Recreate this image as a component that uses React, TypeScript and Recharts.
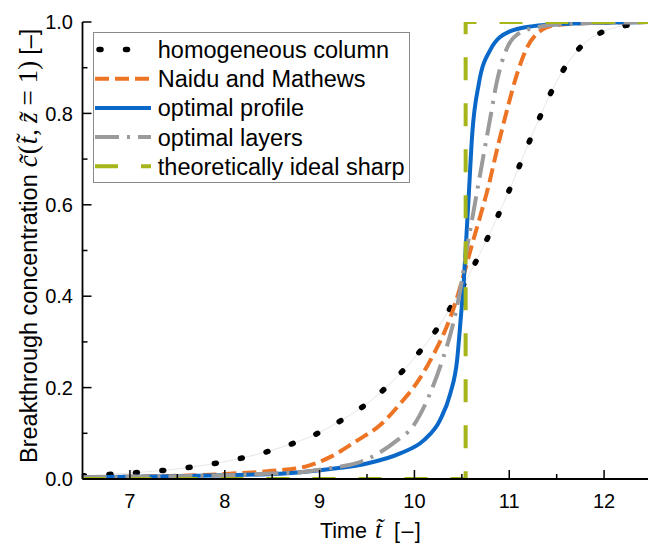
import React from 'react';
import { LineChart, Line, XAxis, YAxis, Legend } from 'recharts';

// ---------- data ----------
const xTicks = [6.5, 7, 7.5, 8, 8.5, 9, 9.5, 10, 10.5, 11, 11.5, 12, 12.5];
const yTicks = [0, 0.1, 0.2, 0.3, 0.4, 0.5, 0.6, 0.7, 0.8, 0.9, 1.0];

const homX = [6.5, 7, 7.5, 8, 8.5, 9, 9.25, 9.5, 9.75, 10, 10.25, 10.5, 10.75, 11, 11.25, 11.5, 11.75, 12, 12.25, 12.5];
const homY = [0.007, 0.013, 0.022, 0.038, 0.063, 0.102, 0.131, 0.165, 0.21, 0.265, 0.332, 0.418, 0.518, 0.632, 0.757, 0.87, 0.945, 0.98, 0.993, 0.997];

const naiduX = [6.5, 7, 7.5, 8, 8.5, 8.85, 9.12, 9.38, 9.66, 9.85, 10.05, 10.2, 10.34, 10.43, 10.54, 10.61, 10.69, 10.78, 10.87, 10.98, 11.08, 11.19, 11.33, 11.46, 11.75, 12.5];
const naiduY = [0.003, 0.005, 0.007, 0.011, 0.018, 0.027, 0.049, 0.082, 0.122, 0.165, 0.218, 0.272, 0.333, 0.384, 0.462, 0.515, 0.572, 0.64, 0.72, 0.81, 0.885, 0.945, 0.981, 0.992, 0.997, 1.0];

const profX = [6.5, 7.5, 8, 8.5, 8.8, 9.2, 9.5, 9.85, 10.1, 10.27, 10.38, 10.45, 10.49, 10.52, 10.55, 10.57, 10.61, 10.68, 10.8, 11.0, 11.25, 11.6, 12.5];
const profY = [0.004, 0.006, 0.008, 0.011, 0.015, 0.024, 0.034, 0.056, 0.085, 0.129, 0.188, 0.26, 0.355, 0.43, 0.538, 0.61, 0.756, 0.866, 0.939, 0.979, 0.991, 0.996, 1.0];

const layersX = [6.5, 7.5, 8, 8.5, 8.8, 9.15, 9.38, 9.61, 9.82, 9.98, 10.15, 10.29, 10.4, 10.48, 10.55, 10.61, 10.67, 10.73, 10.8, 10.87, 10.97, 11.08, 11.33, 11.7, 12.5];
const layersY = [0.004, 0.006, 0.008, 0.012, 0.015, 0.025, 0.034, 0.055, 0.085, 0.114, 0.18, 0.257, 0.333, 0.41, 0.5, 0.57, 0.64, 0.71, 0.79, 0.87, 0.94, 0.972, 0.99, 0.997, 1.0];

const idealX = [6.5, 10.54, 10.54, 12.5];
const idealY = [0, 0, 1, 1];

const seriesNames = [
  'homogeneous column',
  'Naidu and Mathews',
  'optimal profile',
  'optimal layers',
  'theoretically ideal sharp',
];

const toData = (xs: number[], ys: number[]) => xs.map((x, i) => ({ x, y: ys[i] }));
const homData = toData(homX, homY);
const naiduData = toData(naiduX, naiduY);
const profData = toData(profX, profY);
const layersData = toData(layersX, layersY);
const idealData = toData(idealX, idealY);

// ---------- styles ----------
const FONT = '"Liberation Sans", Arial, Helvetica, sans-serif';
const MATH = '"Liberation Serif", "DejaVu Serif", serif';
const C_ORANGE = '#ec7424';
const C_BLUE = '#0a68c9';
const C_GRAY = '#9b9b9b';
const C_GREEN = '#a6b51a';

const styles = [
  { stroke: '#000', width: 5.5, dash: '2 24.5', cap: 'round' as const },
  { stroke: C_ORANGE, width: 4, dash: '14 6', cap: 'butt' as const },
  { stroke: C_BLUE, width: 4, dash: undefined, cap: 'butt' as const },
  { stroke: C_GRAY, width: 4, dash: '24 8 3 8', cap: 'butt' as const },
  { stroke: C_GREEN, width: 4, dash: '23 23', cap: 'butt' as const },
];

const isMajorX = (v: number) => Math.abs(v - Math.round(v)) < 1e-6;
const isMajorY = (v: number) => Math.round(v * 10) % 2 === 0;

const XTickBottom = (props: any) => {
  const { x, y, payload } = props;
  const v = payload.value;
  const major = isMajorX(v);
  return (
    <g>
      <line x1={x} x2={x} y1={y} y2={y - (major ? 9 : 5)} stroke="#000" strokeWidth={1.5} />
      {major && (
        <text x={x} y={y + 28.5} textAnchor="middle" fontFamily={FONT} fontSize={20} fill="#000">
          {String(v)}
        </text>
      )}
    </g>
  );
};

const XTickTop = (props: any) => {
  const { x, y, payload } = props;
  const major = isMajorX(payload.value);
  return <line x1={x} x2={x} y1={y} y2={y + (major ? 9 : 5)} stroke="#000" strokeWidth={1.5} />;
};

const YTickLeft = (props: any) => {
  const { x, y, payload } = props;
  const v = payload.value;
  const major = isMajorY(v);
  return (
    <g>
      <line x1={x} x2={x + (major ? 9 : 5)} y1={y} y2={y} stroke="#000" strokeWidth={1.5} />
      {major && (
        <text x={x - 9.5} y={y + 7.2} textAnchor="end" fontFamily={FONT} fontSize={20} fill="#000">
          {v.toFixed(1)}
        </text>
      )}
    </g>
  );
};

const YTickRight = (props: any) => {
  const { x, y, payload } = props;
  const major = isMajorY(payload.value);
  return <line x1={x} x2={x - (major ? 9 : 5)} y1={y} y2={y} stroke="#000" strokeWidth={1.5} />;
};

const YLabel = (props: any) => {
  const vb = props && props.viewBox && props.viewBox.height ? props.viewBox : { x: 0, y: 22, width: 82.5, height: 457 };
  const bx = vb.x + 37;
  const startY = vb.y + vb.height / 2 + 212.5;
  return (
    <text transform={`translate(${bx},${startY}) rotate(-90)`} x={0} y={0} textAnchor="start" fontSize={23.5} fontFamily={FONT} fill="#000">
      <tspan>Breakthrough concentration</tspan>
      <tspan dx={7} fontFamily={MATH} fontStyle="italic" fontSize={27}>{'c\u0303'}</tspan>
      <tspan dx={1} fontFamily={MATH} fontSize={27}>(</tspan>
      <tspan dx={1} fontFamily={MATH} fontStyle="italic" fontSize={27}>{'t\u0303'}</tspan>
      <tspan dx={1} fontFamily={MATH} fontSize={27}>,</tspan>
      <tspan dx={6} fontFamily={MATH} fontStyle="italic" fontSize={27}>{'z\u0303'}</tspan>
      <tspan dx={7} fontFamily={MATH} fontSize={27}>=</tspan>
      <tspan dx={7} fontFamily={MATH} fontSize={27}>1)</tspan>
      <tspan dx={6}>[–]</tspan>
    </text>
  );
};

const XLabel = (props: any) => {
  const vb = props && props.viewBox && props.viewBox.width ? props.viewBox : { x: 82.5, y: 479, width: 569, height: 68 };
  const sx = vb.x + vb.width / 2 - 47;
  const by = vb.y + 59;
  return (
    <text x={sx} y={by} textAnchor="start" fontSize={21.5} fontFamily={FONT} fill="#000">
      <tspan>Time</tspan>
      <tspan dx={8} fontFamily={MATH} fontStyle="italic" fontSize={25}>{'t\u0303'}</tspan>
      <tspan dx={12} letterSpacing={1.5}>[–]</tspan>
    </text>
  );
};

const LegendBox = () => {
  const rowY = (i: number) => 17.5 + i * 29.2;
  return (
    <svg width={318} height={151} style={{ display: 'block' }}>
      <rect x={0.5} y={0.5} width={316} height={150} fill="#fff" stroke="#8a8a8a" strokeWidth={1} />
      {seriesNames.map((name, i) => {
        const s = styles[i];
        const x1 = i === 0 ? 6 : 2;
        const x2 = i === 0 ? 56 : 58;
        return (
          <g key={name}>
            <line
              x1={x1}
              x2={x2}
              y1={rowY(i)}
              y2={rowY(i)}
              stroke={s.stroke}
              strokeWidth={s.width}
              strokeDasharray={s.dash}
              strokeLinecap={s.cap}
            />
            <text x={64.8} y={rowY(i)} dy="0.36em" fontFamily={FONT} fontSize={23.5} fill="#000">
              {name}
            </text>
          </g>
        );
      })}
    </svg>
  );
};

export default function App() {
  return (
    <div style={{ position: 'absolute', left: 0, top: 0, width: 648, height: 547, overflow: 'hidden', background: '#fff' }}>
      <LineChart width={648} height={547} margin={{ top: 22, right: -3.5, bottom: 0, left: 0 }}>
        <XAxis
          xAxisId="b"
          dataKey="x"
          type="number"
          domain={[6.5, 12.5]}
          ticks={xTicks}
          interval={0}
          allowDataOverflow
          height={68}
          tickSize={0}
          tickMargin={0}
          tickLine={false}
          tick={<XTickBottom />}
          axisLine={{ stroke: '#000', strokeWidth: 1.8 }}
          label={(p: any) => <XLabel {...p} />}
        />
        <XAxis
          xAxisId="t"
          orientation="top"
          dataKey="x"
          type="number"
          domain={[6.5, 12.5]}
          ticks={xTicks}
          interval={0}
          allowDataOverflow
          height={0}
          tickSize={0}
          tickMargin={0}
          tickLine={false}
          tick={<XTickTop />}
          axisLine={{ stroke: '#000', strokeWidth: 1.8 }}
        />
        <YAxis
          yAxisId="l"
          type="number"
          domain={[0, 1]}
          ticks={yTicks}
          interval={0}
          allowDataOverflow
          width={82.5}
          tickSize={0}
          tickMargin={0}
          tickLine={false}
          tick={<YTickLeft />}
          axisLine={{ stroke: '#000', strokeWidth: 1.8 }}
          label={(p: any) => <YLabel {...p} />}
        />
        <YAxis
          yAxisId="r"
          orientation="right"
          type="number"
          domain={[0, 1]}
          ticks={yTicks}
          interval={0}
          allowDataOverflow
          width={0}
          tickSize={0}
          tickMargin={0}
          tickLine={false}
          tick={<YTickRight />}
          axisLine={{ stroke: '#000', strokeWidth: 1.8 }}
        />
        <Legend
          layout="vertical"
          align="center"
          verticalAlign="middle"
          wrapperStyle={{ position: 'absolute', left: 93, top: 32, width: 318, height: 151 }}
          content={() => <LegendBox />}
        />
        <Line
          xAxisId="b"
          yAxisId="l"
          data={homData}
          dataKey="y"
          type="monotone"
          stroke="#e6e6e6"
          strokeWidth={1}
          dot={false}
          activeDot={false}
          legendType="none"
          isAnimationActive={false}
        />
        <Line
          xAxisId="b"
          yAxisId="l"
          data={homData}
          dataKey="y"
          name={seriesNames[0]}
          type="monotone"
          stroke={styles[0].stroke}
          strokeWidth={styles[0].width}
          strokeDasharray={styles[0].dash}
          strokeLinecap="round"
          dot={false}
          activeDot={false}
          isAnimationActive={false}
        />
        <Line
          xAxisId="b"
          yAxisId="l"
          data={naiduData}
          dataKey="y"
          name={seriesNames[1]}
          type="monotone"
          stroke={styles[1].stroke}
          strokeWidth={styles[1].width}
          strokeDasharray={styles[1].dash}
          dot={false}
          activeDot={false}
          isAnimationActive={false}
        />
        <Line
          xAxisId="b"
          yAxisId="l"
          data={profData}
          dataKey="y"
          name={seriesNames[2]}
          type="monotone"
          stroke={styles[2].stroke}
          strokeWidth={styles[2].width}
          dot={false}
          activeDot={false}
          isAnimationActive={false}
        />
        <Line
          xAxisId="b"
          yAxisId="l"
          data={layersData}
          dataKey="y"
          name={seriesNames[3]}
          type="monotone"
          stroke={styles[3].stroke}
          strokeWidth={styles[3].width}
          strokeDasharray={styles[3].dash}
          dot={false}
          activeDot={false}
          isAnimationActive={false}
        />
        <Line
          xAxisId="b"
          yAxisId="l"
          data={idealData}
          dataKey="y"
          name={seriesNames[4]}
          type="linear"
          stroke={styles[4].stroke}
          strokeWidth={styles[4].width}
          strokeDasharray={styles[4].dash}
          dot={false}
          activeDot={false}
          isAnimationActive={false}
        />
      </LineChart>
    </div>
  );
}
